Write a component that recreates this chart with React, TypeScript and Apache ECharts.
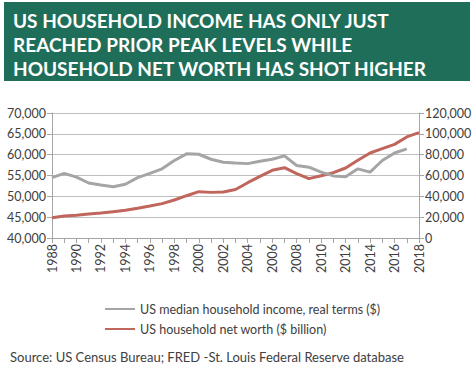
import React, { useEffect, useRef } from "react";
import * as echarts from "echarts";

const years: string[] = [];
for (let y = 1988; y <= 2018; y++) years.push(String(y));

const incomeValues: (number | null)[] = [
  54500, 55500, 54600, 53200, 52700, 52300, 52900, 54500, 55500, 56600,
  58600, 60200, 60100, 58900, 58200, 58000, 57850, 58400, 58900, 59700,
  57400, 57000, 55800, 54900, 54700, 56600, 55800, 58600, 60400, 61400, null,
];

const netWorthValues: number[] = [
  19500, 21100, 21800, 23000, 24000, 25300, 26600, 28500, 30700, 33000,
  36500, 40600, 44500, 43800, 44200, 46600, 53100, 59200, 65000, 67500,
  61800, 57000, 59800, 62700, 67200, 74600, 81600, 85800, 89900, 97000, 101100,
];

const titleLines = [
  "US HOUSEHOLD INCOME HAS ONLY JUST",
  "REACHED PRIOR PEAK LEVELS WHILE",
  "HOUSEHOLD NET WORTH HAS SHOT HIGHER",
];
const seriesNames = [
  "US median household income, real terms ($)",
  "US household net worth ($ billion)",
];
const sourceText = "Source: US Census Bureau; FRED -St. Louis Federal Reserve database";

const FONT = "Lato, 'Open Sans', sans-serif";
const fmt = (v: number) => v.toLocaleString("en-US");

export default function App() {
  const ref = useRef<HTMLDivElement>(null);
  useEffect(() => {
    if (!ref.current) return;
    const chart = echarts.init(ref.current, undefined, { renderer: "svg" });
    const titleY = [20, 44, 68];
    chart.setOption({
      animation: false,
      backgroundColor: "#ffffff",
      textStyle: { fontFamily: FONT },
      grid: { left: 52, right: 56, top: 113, bottom: 130 },
      legend: {
        orient: "vertical",
        left: 100,
        top: 297,
        itemWidth: 30,
        itemHeight: 2,
        itemGap: 6,
        icon: "rect",
        textStyle: { fontFamily: FONT, fontSize: 12.5, color: "#404040", lineHeight: 14 },
        data: seriesNames,
      },
      xAxis: {
        type: "category",
        data: years,
        boundaryGap: false,
        axisLine: { lineStyle: { color: "#a6a6a6" } },
        axisTick: { show: true, interval: 0, length: 5, lineStyle: { color: "#a6a6a6" } },
        axisLabel: { interval: 1, rotate: 90, margin: 6, color: "#404040", fontSize: 12.5, fontFamily: FONT },
      },
      yAxis: [
        {
          type: "value",
          min: 40000,
          max: 70000,
          interval: 5000,
          axisLine: { show: true, lineStyle: { color: "#a6a6a6" } },
          axisTick: { show: true, length: 5, lineStyle: { color: "#a6a6a6" } },
          axisLabel: { color: "#404040", fontSize: 12.5, margin: 6, formatter: (v: number) => fmt(v), fontFamily: FONT },
          splitLine: { lineStyle: { color: "#bfbfbf", width: 1 } },
        },
        {
          type: "value",
          min: 0,
          max: 120000,
          interval: 20000,
          axisLine: { show: true, lineStyle: { color: "#a6a6a6" } },
          axisTick: { show: true, length: 5, lineStyle: { color: "#a6a6a6" } },
          axisLabel: { color: "#404040", fontSize: 12.5, margin: 6, formatter: (v: number) => fmt(v), fontFamily: FONT },
          splitLine: { show: false },
        },
      ],
      series: [
        {
          name: seriesNames[0],
          type: "line",
          yAxisIndex: 0,
          data: incomeValues,
          showSymbol: false,
          symbol: "none",
          lineStyle: { color: "#a5a5a5", width: 3 },
          itemStyle: { color: "#a5a5a5" },
          z: 3,
        },
        {
          name: seriesNames[1],
          type: "line",
          yAxisIndex: 1,
          data: netWorthValues,
          showSymbol: false,
          symbol: "none",
          lineStyle: { color: "#c0665c", width: 3 },
          itemStyle: { color: "#c0665c" },
          z: 2,
        },
      ],
      graphic: [
        {
          type: "rect",
          shape: { x: 4, y: 2, width: 466, height: 79 },
          style: { fill: "#1f6e5a" },
        },
        ...titleLines.map((t, i) => ({
          type: "text",
          x: 13,
          y: titleY[i],
          style: {
            text: t,
            fill: "#ffffff",
            font: `bold 19px ${FONT}`,
            textVerticalAlign: "middle",
          },
        })),
        {
          type: "text",
          x: 10,
          y: 357,
          style: {
            text: sourceText,
            fill: "#404040",
            font: `13px ${FONT}`,
            textVerticalAlign: "middle",
          },
        },
      ],
    });
    return () => chart.dispose();
  }, []);
  return <div ref={ref} style={{ width: 475, height: 368, position: "absolute", left: 0, top: 0 }} />;
}
